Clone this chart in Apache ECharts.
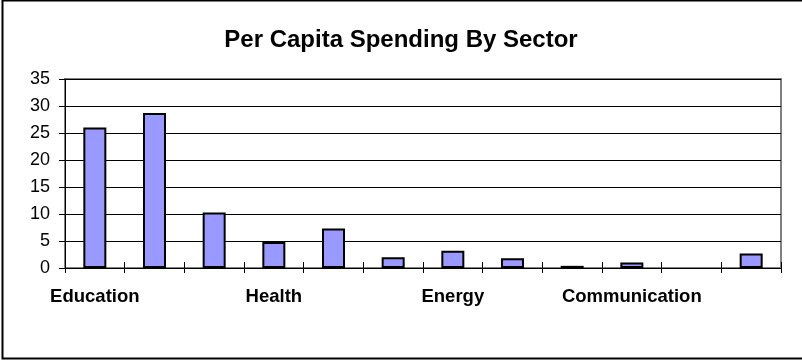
<!DOCTYPE html>
<html>
<head>
<meta charset="utf-8">
<script src="https://cdn.jsdelivr.net/npm/echarts@6/dist/echarts.min.js"></script>
<style>
html,body{margin:0;padding:0;background:#fff;}
#c{width:802px;height:360px;}
</style>
</head>
<body>
<div id="c"></div>
<script>
var categories = ["Education","","","Health","","","Energy","","","Communication","",""];
var values = [26.0, 28.7, 10.3, 4.8, 7.3, 2.0, 3.2, 1.8, 0.4, 1.0, null, 2.7];
var yTicks = [0, 5, 10, 15, 20, 25, 30, 35];
var titleText = "Per Capita Spending By Sector";

var chart = echarts.init(document.getElementById('c'), null, {renderer: 'canvas'});
var font = 'Liberation Sans, Arial, sans-serif';
chart.setOption({
  animation: false,
  backgroundColor: '#fff',
  title: {
    text: titleText,
    left: 'center',
    top: 23,
    textStyle: {fontFamily: font, fontSize: 24, fontWeight: 'bold', color: '#000'}
  },
  grid: {left: 65, right: 21, top: 79, bottom: 92, show: true, borderColor: '#808080', borderWidth: 2, backgroundColor: 'transparent'},
  xAxis: [{
    type: 'category',
    data: categories,
    axisLine: {lineStyle: {color: '#000', width: 1}},
    axisTick: {show: true, inside: true, length: 6, alignWithLabel: false, interval: 0, lineStyle: {color: '#000'}},
    axisLabel: {interval: 0, margin: 19, fontFamily: font, fontSize: 18.5, fontWeight: 'bold', color: '#000'},
    splitLine: {show: false}
  }, {
    type: 'category',
    data: categories,
    position: 'bottom',
    axisLine: {show: false},
    axisTick: {show: true, inside: false, length: 5, interval: 0, lineStyle: {color: '#000'}},
    axisLabel: {show: false},
    splitLine: {show: false}
  }],
  yAxis: {
    type: 'value',
    min: yTicks[0],
    max: yTicks[yTicks.length - 1],
    interval: 5,
    axisLine: {show: true, lineStyle: {color: '#000', width: 1}},
    axisTick: {show: true, length: 6, lineStyle: {color: '#000'}},
    axisLabel: {margin: 15, fontFamily: font, fontSize: 18, color: '#000'},
    splitLine: {show: true, lineStyle: {color: '#000', width: 1}}
  },
  series: [{
    type: 'bar',
    data: values,
    barWidth: 23,
    itemStyle: {color: '#9999FF', borderColor: '#000', borderWidth: 2}
  }],
  graphic: [{
    type: 'rect',
    shape: {x: 2.5, y: 0.5, width: 820, height: 358},
    style: {fill: 'none', stroke: '#000', lineWidth: 2},
    silent: true,
    z: 100
  }]
});
</script>
</body>
</html>
